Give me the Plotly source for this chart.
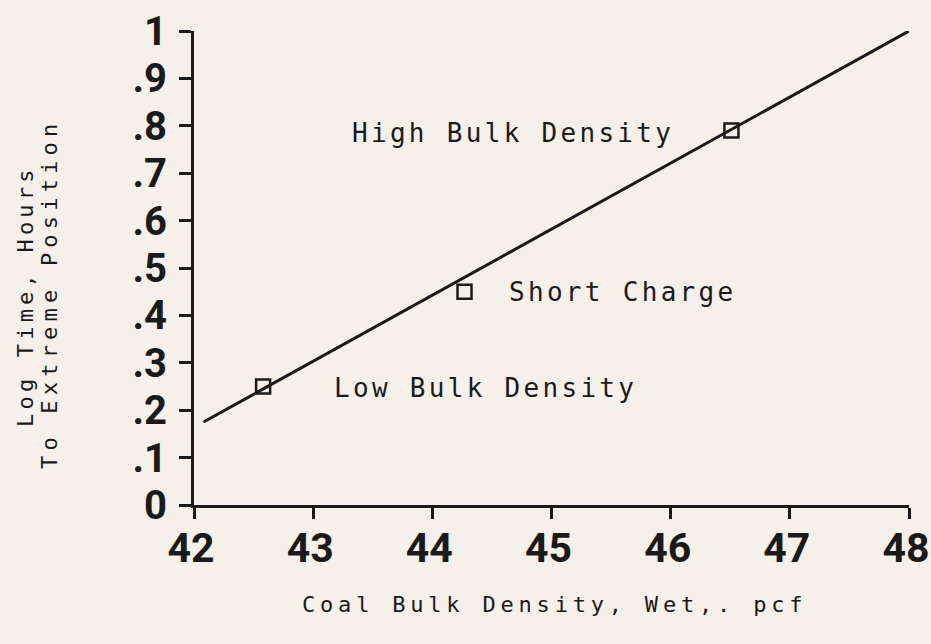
import plotly.graph_objects as go

# data
point_x = [42.58, 44.27, 46.51]
point_y = [0.25, 0.45, 0.79]
fit_x = [42.08, 48.0]
fit_y = [0.175, 1.0]
label_text = ["Low Bulk Density", "Short Charge", "High Bulk Density"]
label_x = [43.16, 44.63, 43.31]
label_y = [0.247, 0.449, 0.785]
x_ticks = [42, 43, 44, 45, 46, 47, 48]
y_ticks = [0, 0.1, 0.2, 0.3, 0.4, 0.5, 0.6, 0.7, 0.8, 0.9, 1.0]
y_ticktext = ["0", ".1", ".2", ".3", ".4", ".5", ".6", ".7", ".8", ".9", "1"]

MONO = "DejaVu Sans Mono, Liberation Mono, monospace"
TICKF = "Roboto, Liberation Sans, sans-serif"
INK = "#1a1a1a"
BG = "#f6f0ea"

def spaced(t, sp):
    return f'<span style="letter-spacing:{sp}px">{t}</span>'

fig = go.Figure()
fig.add_trace(go.Scatter(x=fit_x, y=fit_y, mode="lines",
                         line=dict(color=INK, width=3), showlegend=False,
                         hoverinfo="skip"))
fig.add_trace(go.Scatter(x=point_x, y=point_y, mode="markers",
                         marker=dict(symbol="square-open", size=14, color=INK,
                                     line=dict(width=2.5, color=INK)),
                         showlegend=False, hoverinfo="skip"))

for t, x, y in zip(label_text, label_x, label_y):
    fig.add_annotation(x=x, y=y, xref="x", yref="y", text=spaced(t, 3.3),
                       showarrow=False, xanchor="left", yanchor="middle",
                       font=dict(family=MONO, size=26, color=INK))

# plot area (pixels): x 194..909, y 31..505
fig.add_annotation(x=0.5 + 3 / 715, y=-0.21, xref="paper", yref="paper",
                   text=spaced("Coal Bulk Density, Wet,. pcf", 4.8),
                   showarrow=False, xanchor="center", yanchor="middle",
                   font=dict(family=MONO, size=22, color=INK))
fig.add_annotation(x=(25 - 194) / 715, y=(505 - 296) / 474, xref="paper", yref="paper",
                   text=spaced("Log Time, Hours", 4.2), textangle=-90,
                   showarrow=False, xanchor="center", yanchor="middle",
                   font=dict(family=MONO, size=22, color=INK))
fig.add_annotation(x=(49 - 194) / 715, y=(505 - 294) / 474, xref="paper", yref="paper",
                   text=spaced("To Extreme Position", 5.2), textangle=-90,
                   showarrow=False, xanchor="center", yanchor="middle",
                   font=dict(family=MONO, size=22, color=INK))

fig.update_xaxes(range=[42, 48], tickvals=x_ticks,
                 showgrid=False, zeroline=False,
                 showline=True, linecolor=INK, linewidth=3,
                 ticks="outside", ticklen=11, tickwidth=3, tickcolor=INK,
                 tickfont=dict(family=TICKF, size=41, color=INK, weight="bold"),
                 ticklabelstandoff=-6, ticklabelshift=-3,
                 automargin=False, ticklabeloverflow="allow")
fig.update_yaxes(range=[0, 1], tickvals=y_ticks, ticktext=y_ticktext,
                 showgrid=False, zeroline=False,
                 showline=True, linecolor=INK, linewidth=3,
                 ticks="outside", ticklen=12, tickwidth=3, tickcolor=INK,
                 tickfont=dict(family=TICKF, size=40, color=INK, weight="bold"),
                 ticklabelstandoff=4, automargin=False, ticklabeloverflow="allow")

fig.update_layout(width=931, height=644,
                  margin=dict(l=194, r=22, t=31, b=139, autoexpand=False),
                  paper_bgcolor=BG, plot_bgcolor=BG,
                  font=dict(family=MONO, color=INK))

fig.write_html(
    "out.html",
    config={"displayModeBar": False},
    post_script=(
        "document.body.style.margin='0';"
        "document.body.style.overflow='hidden';"
        "document.body.style.background='" + BG + "';"
    ),
)
